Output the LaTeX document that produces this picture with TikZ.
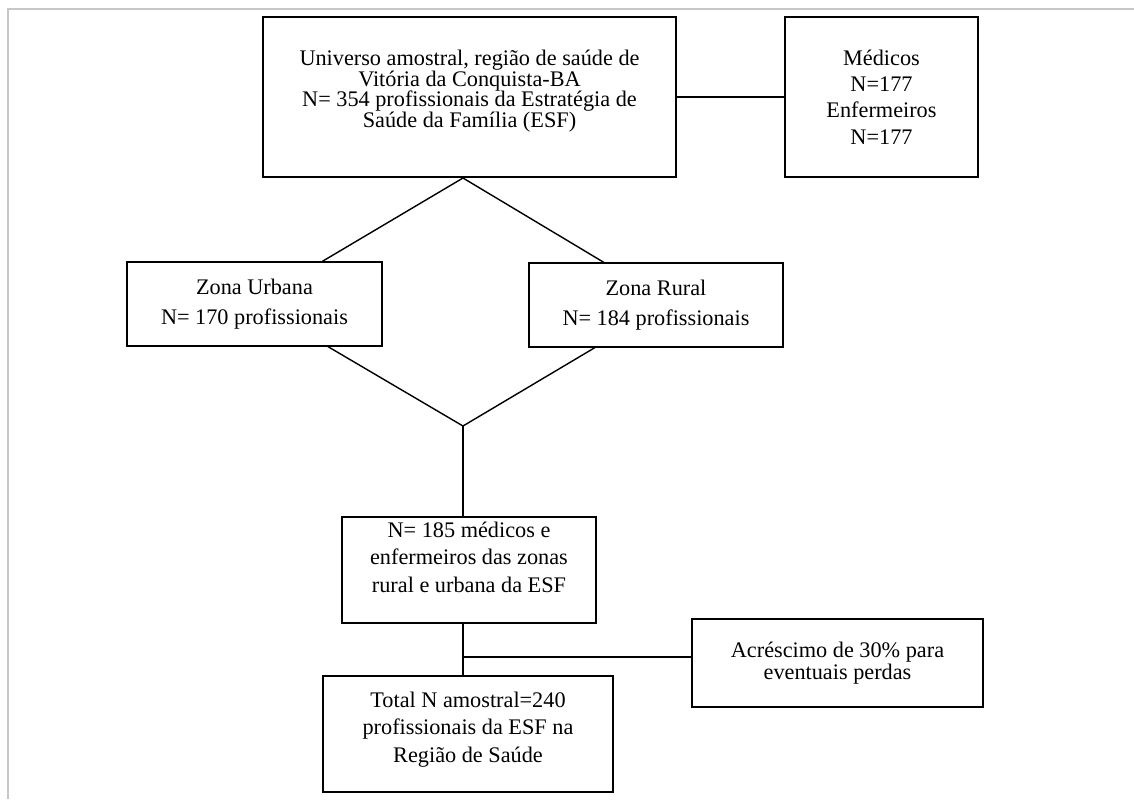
\documentclass[tikz,border=0pt]{standalone}
\usepackage{fontspec}
\setmainfont{Liberation Serif}
\usetikzlibrary{positioning}

\begin{document}
\begin{tikzpicture}[x=0.03cm, y=-0.03cm, line join=miter]
    \tikzset{caixa/.style = {draw, line width=0.9pt, inner sep=0pt, align=center,
        font=\fontsize{19}{#1}\selectfont}, caixa/.default=19pt}
    \tikzset{liga/.style = {line width=1.2pt}}
    \tikzset{moldura/.style = {draw=black!22, line width=1.6pt}}

    \useasboundingbox (0,0) rectangle (1134,799);
    \draw[moldura] (8,799) -- (8,9) -- (1134,9);

    % vertices
    \node[caixa=17.6pt, minimum width=12.39cm, minimum height=4.8cm, text depth=14pt] (univ) at (469.5,97)
      {Universo amostral, região de saúde de\\ Vitória da Conquista-BA\\
       N= 354 profissionais da Estratégia de\\ Saúde da Família (ESF)};
    \node[caixa=22.5pt, minimum width=5.79cm, minimum height=4.8cm] (medicos) at (881.5,97)
      {Médicos\\ N=177\\ Enfermeiros\\ N=177};
    \node[caixa=25pt, minimum width=7.65cm, minimum height=2.52cm] (urbana) at (254.5,304)
      {Zona Urbana\\ N= 170 profissionais};
    \node[caixa=25pt, minimum width=7.62cm, minimum height=2.52cm] (rural) at (656,305)
      {Zona Rural\\ N= 184 profissionais};
    \node[caixa=23.5pt, minimum width=7.62cm, minimum height=3.18cm, text depth=22pt] (amostra) at (469,570)
      {N= 185 médicos e\\ enfermeiros das zonas\\ rural e urbana da ESF};
    \node[caixa=19.3pt, minimum width=8.73cm, minimum height=2.64cm] (acrescimo) at (837.5,663)
      {Acréscimo de 30\% para\\ eventuais perdas};
    \node[caixa=23.5pt, minimum width=8.7cm, minimum height=3.48cm, text depth=12pt] (total) at (468,734)
      {Total N amostral=240\\ profissionais da ESF na\\ Região de Saúde};

    \coordinate (topo) at (463,178);
    \coordinate (fundo) at (463,426);
    \coordinate (ramo) at (463,657);

    % edges
    \draw[liga] (univ) -- (medicos);
    \draw[liga] (topo) -- ([xshift=2.03cm]urbana.north);
    \draw[liga] (topo) -- ([xshift=-1.56cm]rural.north);
    \draw[liga] ([xshift=2.2cm]urbana.south) -- (fundo);
    \draw[liga] ([xshift=-1.83cm]rural.south) -- (fundo);
    \draw[liga] (fundo) -- (fundo |- amostra.north);
    \draw[liga] (amostra.south -| ramo) -- (total.north -| ramo);
    \draw[liga] (ramo) -- (ramo -| acrescimo.west);
\end{tikzpicture}
\end{document}
